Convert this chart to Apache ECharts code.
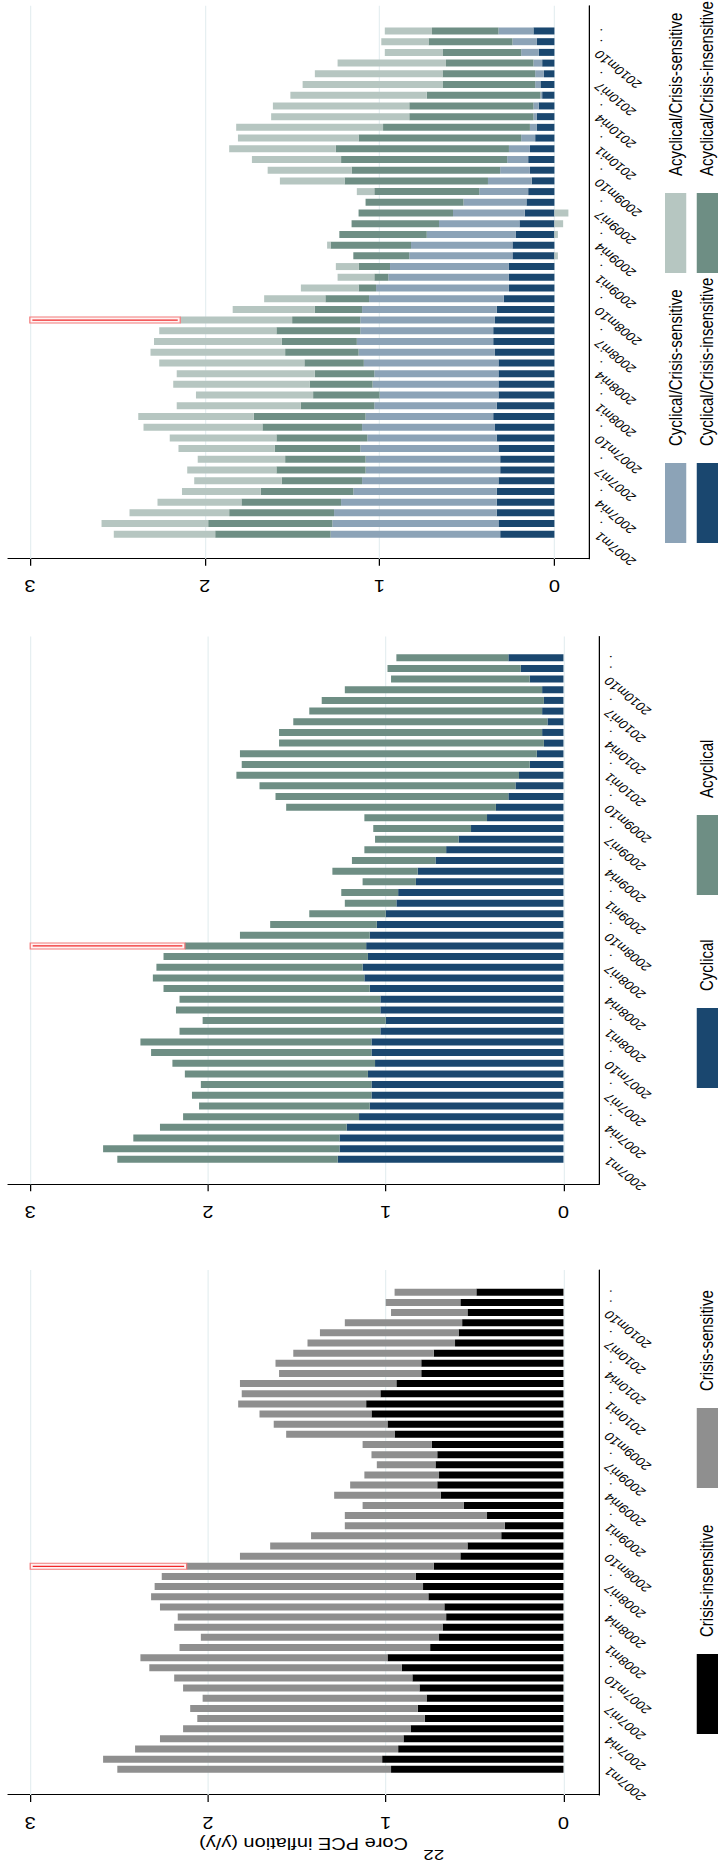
<!DOCTYPE html>
<html>
<head>
<meta charset="utf-8">
<script src="https://cdn.jsdelivr.net/npm/echarts@6/dist/echarts.min.js"></script>
<style>
  html, body { margin: 0; padding: 0; background: #fff; }
  .page { position: relative; width: 720px; height: 1865px; overflow: hidden; }
  /* the figure sits on its side in the page, and the page is stretched across */
  #chart {
    position: absolute; left: 0; top: 0; width: 1865px; height: 576px;
    transform-origin: 0 0;
    transform: translateY(1865px) rotate(-90deg) scaleY(1.25);
  }
</style>
</head>
<body>
<div class="page"><div id="chart"></div></div>
<script>
  const months = [
    "2007m1","2007m2","2007m3","2007m4","2007m5","2007m6","2007m7","2007m8","2007m9","2007m10","2007m11","2007m12",
    "2008m1","2008m2","2008m3","2008m4","2008m5","2008m6","2008m7","2008m8","2008m9","2008m10","2008m11","2008m12",
    "2009m1","2009m2","2009m3","2009m4","2009m5","2009m6","2009m7","2009m8","2009m9","2009m10","2009m11","2009m12",
    "2010m1","2010m2","2010m3","2010m4","2010m5","2010m6","2010m7","2010m8","2010m9","2010m10","2010m11","2010m12"
  ];
  const valueTicks = [0, 1, 2, 3];

  // panel 1
  const p1Insensitive = [0.97,1.02,0.93,0.90,0.86,0.78,0.82,0.77,0.81,0.85,0.91,0.99,
    0.75,0.70,0.68,0.66,0.67,0.76,0.79,0.83,0.73,0.58,0.54,0.35,
    0.33,0.43,0.56,0.69,0.71,0.70,0.72,0.71,0.74,0.95,0.99,1.08,
    1.11,1.03,0.94,0.80,0.80,0.73,0.61,0.59,0.57,0.54,0.58,0.49];
  const p1Sensitive = [1.54,1.57,1.48,1.37,1.28,1.28,1.28,1.26,1.33,1.34,1.42,1.39,
    1.41,1.34,1.51,1.51,1.60,1.56,1.51,1.43,1.39,1.24,1.11,1.07,
    0.90,0.80,0.57,0.60,0.49,0.42,0.33,0.37,0.39,0.61,0.64,0.63,
    0.72,0.78,0.88,0.80,0.82,0.79,0.83,0.78,0.66,0.43,0.42,0.46];

  // panel 2
  const p2Cyclical = [1.27,1.26,1.26,1.22,1.15,1.09,1.08,1.08,1.10,1.06,1.08,1.08,
    1.03,1.00,1.03,1.03,1.09,1.12,1.13,1.10,1.11,1.09,1.05,1.00,
    0.94,0.93,0.83,0.82,0.72,0.66,0.59,0.52,0.43,0.38,0.31,0.27,
    0.25,0.19,0.15,0.11,0.12,0.09,0.12,0.11,0.12,0.19,0.24,0.31];
  const p2Acyclical = [1.24,1.33,1.16,1.05,0.99,0.96,1.01,0.96,1.03,1.14,1.24,1.30,
    1.13,1.03,1.15,1.13,1.16,1.19,1.16,1.15,1.02,0.73,0.60,0.43,
    0.29,0.32,0.30,0.48,0.47,0.46,0.47,0.55,0.69,1.18,1.31,1.44,
    1.59,1.62,1.67,1.49,1.48,1.43,1.31,1.25,1.11,0.78,0.75,0.63];

  // panel 3
  const p3CycIns = [0.31,0.32,0.33,0.33,0.33,0.32,0.31,0.31,0.32,0.33,0.34,0.35,
    0.33,0.32,0.32,0.32,0.32,0.34,0.35,0.35,0.34,0.33,0.29,0.26,
    0.26,0.26,0.24,0.24,0.22,0.20,0.17,0.16,0.15,0.13,0.14,0.15,
    0.14,0.11,0.10,0.10,0.09,0.07,0.08,0.06,0.07,0.09,0.10,0.12];
  const p3CycSens = [0.97,0.95,0.93,0.89,0.82,0.78,0.77,0.77,0.79,0.74,0.76,0.73,
    0.70,0.68,0.72,0.71,0.77,0.78,0.78,0.76,0.77,0.77,0.77,0.76,
    0.69,0.68,0.59,0.58,0.51,0.46,0.41,0.36,0.28,0.25,0.17,0.12,
    0.12,0.08,0.04,0.02,0.03,0.01,0.03,0.05,0.05,0.10,0.14,0.20];
  const p3AcycIns = [0.66,0.71,0.60,0.57,0.53,0.46,0.51,0.46,0.49,0.52,0.57,0.64,
    0.42,0.38,0.36,0.34,0.34,0.42,0.43,0.48,0.39,0.27,0.25,0.10,
    0.08,0.18,0.32,0.46,0.50,0.50,0.54,0.56,0.60,0.82,0.85,0.95,
    0.99,0.93,0.84,0.71,0.71,0.65,0.53,0.53,0.50,0.45,0.48,0.38];
  const p3AcycSens = [0.58,0.61,0.57,0.48,0.45,0.50,0.51,0.50,0.55,0.61,0.68,0.66,
    0.71,0.67,0.78,0.79,0.83,0.77,0.73,0.67,0.64,0.47,0.35,0.33,
    0.21,0.13,-0.02,0.02,-0.02,-0.05,-0.08,0.00,0.10,0.37,0.48,0.51,
    0.61,0.69,0.84,0.79,0.78,0.78,0.80,0.73,0.62,0.33,0.27,0.27];

  // red marker at Lehman month, drawn up to the top tick
  const markIdx = months.indexOf("2008m9");
  const markTop = 3;

  const font = "'Liberation Sans', Arial, sans-serif";
  const chart = echarts.init(document.getElementById('chart'), null, { renderer: 'svg', width: 1865, height: 576 });

  function bars(name, data, color, k, grid) {
    // value first so the stack runs on the value axis, month index second
    const s = {
      name, type: 'bar', stack: 'p' + k, xAxisIndex: k, yAxisIndex: k,
      barWidth: 7, itemStyle: { color }, silent: true,
      encode: { x: 1, y: 0 },
      data: data.map((v, i) => [v, i])
    };
    if (grid) {
      s.markLine = {
        silent: true, symbol: 'none', z: 1, animation: false,
        label: { show: false },
        lineStyle: { color: '#e6eff1', width: 1, type: 'solid' },
        data: valueTicks.map(v => ({ yAxis: v }))
      };
    }
    return s;
  }

  function marker(k, parts) {
    const lo = parts.reduce((s, a) => s + Math.max(a[markIdx], 0), 0);
    return {
      type: 'custom', xAxisIndex: k, yAxisIndex: k, z: 10, silent: true,
      data: [[markIdx, lo, markTop]],
      renderItem(params, api) {
        const a = api.coord([api.value(0), api.value(2)]);
        const b = api.coord([api.value(0), api.value(1)]);
        return {
          type: 'group',
          children: [
            { type: 'rect', shape: { x: a[0] - 3, y: a[1], width: 6, height: b[1] - a[1] },
              style: { fill: '#fff3f3', stroke: '#f27b7b', lineWidth: 1 } },
            { type: 'line', shape: { x1: a[0], y1: a[1] + 2, x2: a[0], y2: b[1] - 2 },
              style: { stroke: '#f0282a', lineWidth: 1.2 } }
          ]
        };
      }
    };
  }

  function monthAxis(k, min, max) {
    return {
      type: 'value', gridIndex: k, min, max,
      axisLine: { show: true, onZero: false, lineStyle: { color: '#000', width: 1 } },
      axisTick: { show: false },
      splitLine: { show: false },
      axisLabel: {
        customValues: months.map((m, i) => i),
        rotate: 45, margin: 6, fontSize: 11.5, color: '#000', fontFamily: font,
        formatter: v => /m(1|4|7|10)$/.test(months[v]) ? months[v] : '.'
      }
    };
  }

  function valAxis(k) {
    const ax = {
      type: 'value', gridIndex: k, min: -0.2, max: 3.125,
      axisLine: { show: true, onZero: false, lineStyle: { color: '#000', width: 1 } },
      axisTick: { show: true, length: 7, customValues: valueTicks, lineStyle: { color: '#000' } },
      splitLine: { show: false },
      axisLabel: { customValues: valueTicks, rotate: 90, margin: 19, fontSize: 16, color: '#000', fontFamily: font }
    };
    if (k === 0) {
      ax.name = 'Core PCE inflation (y/y)';
      ax.nameLocation = 'middle';
      ax.nameRotate = 90;
      ax.nameGap = 40;
      ax.nameTextStyle = { fontSize: 16, color: '#000', fontFamily: font };
    }
    return ax;
  }

  function key(name, left, top) {
    return {
      data: [name], left, top, padding: 0, orient: 'horizontal',
      itemWidth: 80, itemHeight: 17, icon: 'rect', selectedMode: false,
      textStyle: { fontSize: 15, color: '#000', fontFamily: font, padding: [0, 0, 0, 12] }
    };
  }

  chart.setOption({
    animation: false,
    grid: [
      { left: 70, top: 6.4, width: 525, height: 472.8 },
      { left: 680.7, top: 6.4, width: 547.9, height: 472.8 },
      { left: 1306.3, top: 6.4, width: 553, height: 465.1 }
    ],
    xAxis: [monthAxis(0, -2.53, 49.19), monthAxis(1, -2.34, 49.0), monthAxis(2, -2.28, 49.36)],
    yAxis: [valAxis(0), valAxis(1), valAxis(2)],
    legend: [
      key('Crisis-insensitive', 131, 557.4),
      key('Crisis-sensitive', 377, 557.4),
      key('Cyclical', 777, 557.4),
      key('Acyclical', 970, 557.4),
      key('Cyclical/Crisis-sensitive', 1322, 532),
      key('Acyclical/Crisis-sensitive', 1592, 532),
      key('Cyclical/Crisis-insensitive', 1322, 557.4),
      key('Acyclical/Crisis-insensitive', 1592, 557.4)
    ],
    // page number at the page edge
    graphic: [{
      type: 'text', x: 10, y: 347, rotation: Math.PI / 2,
      style: { text: '22', fill: '#000', font: "15px 'Liberation Sans', Arial, sans-serif", align: 'center', verticalAlign: 'middle' }
    }],
    series: [
      bars('Crisis-insensitive', p1Insensitive, '#000000', 0, true),
      bars('Crisis-sensitive', p1Sensitive, '#8f8f8f', 0),
      marker(0, [p1Insensitive, p1Sensitive]),

      bars('Cyclical', p2Cyclical, '#1a476f', 1, true),
      bars('Acyclical', p2Acyclical, '#6e8e84', 1),
      marker(1, [p2Cyclical, p2Acyclical]),

      bars('Cyclical/Crisis-insensitive', p3CycIns, '#1a476f', 2, true),
      bars('Cyclical/Crisis-sensitive', p3CycSens, '#8ca3b7', 2),
      bars('Acyclical/Crisis-insensitive', p3AcycIns, '#6e8e84', 2),
      bars('Acyclical/Crisis-sensitive', p3AcycSens, '#b6c6c1', 2),
      marker(2, [p3CycIns, p3CycSens, p3AcycIns, p3AcycSens])
    ]
  });
</script>
</body>
</html>
